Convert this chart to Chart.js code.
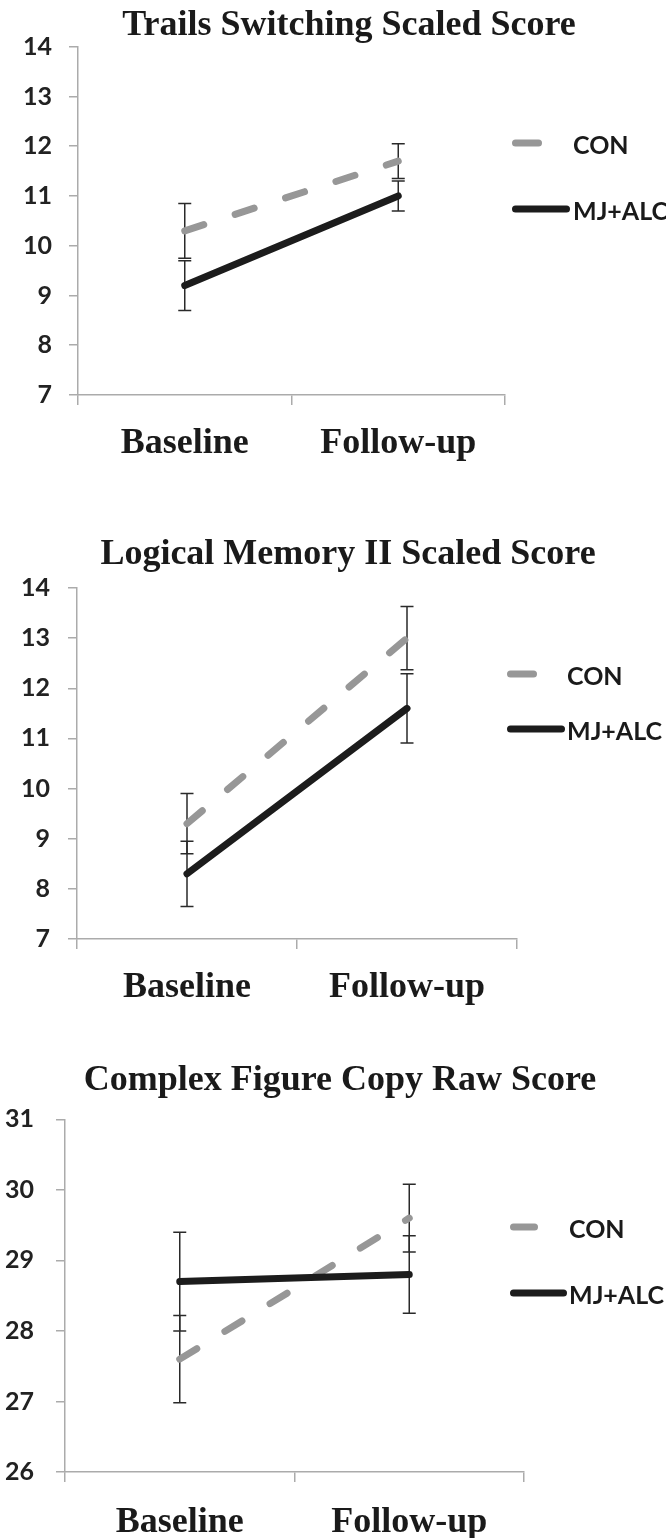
<!DOCTYPE html>
<html>
<head>
<meta charset="utf-8">
<script src="https://cdn.jsdelivr.net/npm/chart.js@4/dist/chart.umd.min.js"></script>
<style>
  body { margin: 0; background: #fff; }
  #wrap { position: relative; width: 666px; height: 1538px; }
  canvas { position: absolute; left: 0; }
</style>
</head>
<body>
<div id="wrap">
  <canvas id="c1" width="666" height="510" style="top:0px"></canvas>
  <canvas id="c2" width="666" height="510" style="top:510px"></canvas>
  <canvas id="c3" width="666" height="510" style="top:1028px"></canvas>
</div>
<script>
/* 데이터 */
const categories = ['Baseline', 'Follow-up'];
const seriesNames = ['CON', 'MJ+ALC'];

// Trails Switching Scaled Score
const trailsCon = [10.3, 11.7];
const trailsConErr = [0.55, 0.35];
const trailsMj = [9.2, 11.0];
const trailsMjErr = [0.5, 0.3];
const trailsTicks = [7, 14];

// Logical Memory II Scaled Score
const memoryCon = [9.3, 13.0];
const memoryConErr = [0.6, 0.63];
const memoryMj = [8.3, 11.6];
const memoryMjErr = [0.65, 0.69];
const memoryTicks = [7, 14];

// Complex Figure Copy Raw Score
const figureCon = [27.6, 29.6];
const figureConErr = [0.62, 0.48];
const figureMj = [28.7, 28.8];
const figureMjErr = [0.7, 0.55];
const figureTicks = [26, 31];

const SERIF = '"Liberation Serif", "Times New Roman", serif';
const SANS = 'Lato, "Open Sans", sans-serif';
const AXIS_GRAY = '#ababab';

/* 오차 막대 */
const errorBars = {
  id: 'errorBars',
  beforeDatasetsDraw(chart) {
    const ctx = chart.ctx;
    const xs = chart.scales.x, ys = chart.scales.y;
    ctx.save();
    ctx.strokeStyle = '#2a2a2a';
    ctx.lineWidth = 1.5;
    chart.data.datasets.forEach(ds => {
      ds.data.forEach((v, i) => {
        const x = xs.getPixelForValue(i);
        const top = ys.getPixelForValue(v + ds.errors[i]);
        const bot = ys.getPixelForValue(v - ds.errors[i]);
        ctx.beginPath();
        ctx.moveTo(x, top); ctx.lineTo(x, bot);
        ctx.moveTo(x - 6.5, top); ctx.lineTo(x + 6.5, top);
        ctx.moveTo(x - 6.5, bot); ctx.lineTo(x + 6.5, bot);
        ctx.stroke();
      });
    });
    ctx.restore();
  }
};

/* 오른쪽 범례 */
const sideLegend = {
  id: 'sideLegend',
  afterDraw(chart, args, opts) {
    const ctx = chart.ctx;
    chart.data.datasets.forEach((ds, i) => {
      const y = opts.rows[i];
      ctx.save();
      ctx.strokeStyle = ds.borderColor;
      ctx.lineWidth = ds.borderWidth;
      ctx.lineCap = 'round';
      ctx.beginPath();
      ctx.moveTo(opts.x + 3.5, y);
      ctx.lineTo(opts.ends[i] - 3.5, y);
      ctx.stroke();
      ctx.fillStyle = '#1a1a1a';
      ctx.font = 'bold 25px ' + SANS;
      ctx.textBaseline = 'middle';
      ctx.fillText(ds.label, opts.textX, y + 3);
      ctx.restore();
    });
  }
};

function makePanel(id, p) {
  new Chart(document.getElementById(id), {
    type: 'line',
    data: {
      labels: categories,
      datasets: [{
        label: seriesNames[0],
        data: p.con,
        errors: p.conErr,
        borderColor: '#979797',
        borderWidth: 7,
        borderDash: [20, 33],
        borderCapStyle: 'round',
        pointRadius: 0,
        tension: 0,
        order: 1,
      }, {
        label: seriesNames[1],
        data: p.mj,
        errors: p.mjErr,
        borderColor: '#1c1c1c',
        borderWidth: 7,
        borderCapStyle: 'round',
        pointRadius: 0,
        tension: 0,
        order: 0,
      }]
    },
    options: {
      responsive: false,
      animation: false,
      // 음수 오른쪽 여백: 제목 중심을 원본처럼 오른쪽으로 옮김
      layout: { padding: { left: 0, right: p.padRight, top: 0, bottom: 0 } },
      plugins: {
        legend: { display: false },
        tooltip: { enabled: false },
        title: {
          display: true,
          text: p.title,
          color: '#1a1a1a',
          font: { family: SERIF, weight: 'bold', size: 36, lineHeight: 1 },
          padding: { top: p.titleTop, bottom: p.titleBottom },
        },
        sideLegend: p.legend,
      },
      scales: {
        x: {
          offset: true,
          grid: { offset: true, drawOnChartArea: false, tickLength: 10, color: AXIS_GRAY, lineWidth: 1.5 },
          border: { color: AXIS_GRAY, width: 1.5 },
          ticks: { color: '#1a1a1a', padding: p.xPad, font: { family: SERIF, weight: 'bold', size: 36 } },
          afterFit: s => { s.height = p.xHeight; },
        },
        y: {
          min: p.ticks[0],
          max: p.ticks[1],
          grid: { drawOnChartArea: false, tickLength: 9, color: AXIS_GRAY, lineWidth: 1.5 },
          border: { color: AXIS_GRAY, width: 1.5 },
          ticks: { stepSize: 1, color: '#222', padding: p.yPad, font: { family: SANS, weight: 'bold', size: 25 } },
          afterFit: s => { s.width = p.yWidth; },
        },
        side: {
          type: 'linear',
          position: 'right',
          grid: { display: false },
          border: { display: false },
          ticks: { display: false },
          afterFit: s => { s.width = p.rightWidth; },
        },
      },
    },
    plugins: [errorBars, sideLegend],
  });
}

makePanel('c1', {
  title: 'Trails Switching Scaled Score',
  con: trailsCon, conErr: trailsConErr, mj: trailsMj, mjErr: trailsMjErr, ticks: trailsTicks,
  padRight: -32, yWidth: 78, rightWidth: 193, yPad: 17,
  titleTop: 8, titleBottom: 2.7, xHeight: 115, xPad: 17,
  legend: { x: 512, ends: [542, 570], textX: 573, rows: [143, 209] },
});

makePanel('c2', {
  title: 'Logical Memory II Scaled Score',
  con: memoryCon, conErr: memoryConErr, mj: memoryMj, mjErr: memoryMjErr, ticks: memoryTicks,
  padRight: -30, yWidth: 77, rightWidth: 179, yPad: 18,
  titleTop: 27, titleBottom: 15, xHeight: 81, xPad: 17,
  legend: { x: 507, ends: [537, 565], textX: 567, rows: [164, 219] },
});

makePanel('c3', {
  title: 'Complex Figure Copy Raw Score',
  con: figureCon, conErr: figureConErr, mj: figureMj, mjErr: figureMjErr, ticks: figureTicks,
  padRight: -14, yWidth: 65, rightWidth: 156, yPad: 22,
  titleTop: 35, titleBottom: 20.3, xHeight: 66, xPad: 19,
  legend: { x: 510, ends: [538, 567], textX: 569, rows: [199, 265] },
});
</script>
</body>
</html>
